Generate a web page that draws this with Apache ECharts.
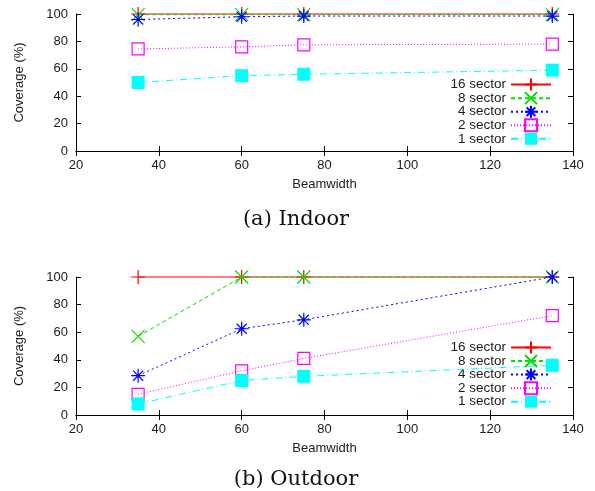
<!DOCTYPE html>
<html><head><meta charset="utf-8">
<script src="https://cdn.jsdelivr.net/npm/echarts@6/dist/echarts.min.js"></script>
<style>html,body{margin:0;padding:0;background:#fff}#c{width:595px;height:491px}</style>
</head><body><div id="c"></div>
<script>
const beamwidth = [35, 60, 75, 135];
const seriesNames = ['16 sector', '8 sector', '4 sector', '2 sector', '1 sector'];
const indoor16 = [100, 100, 100, 100];
const indoor8 = [99.5, 99.5, 99.5, 99.5];
const indoor4 = [96, 98, 98.5, 98.5];
const indoor2 = [74.5, 76, 77.5, 78];
const indoor1 = [50, 55, 56, 59];
const outdoor16 = [100, 100, 100, 100];
const outdoor8 = [57, 100, 100, 100];
const outdoor4 = [28.5, 62.5, 69, 100];
const outdoor2 = [15, 32, 41, 72];
const outdoor1 = [8, 25, 28, 36];
const xTicks = [20, 40, 60, 80, 100, 120, 140];
const yTicks = [0, 20, 40, 60, 80, 100];
const captions = ['(a) Indoor', '(b) Outdoor'];

const styles = [
  {color: '#ff0000', type: 'solid', symbol: 'path://M0,-1V1M-1,0H1', size: 14, fill: '#ff0000'},
  {color: '#00e000', type: [4, 3], symbol: 'path://M-1,-1L1,1M-1,1L1,-1', size: 13, fill: '#00e000'},
  {color: '#0000ff', type: [2, 3], symbol: 'path://M0,-1V1M-1,0H1M-0.72,-0.72L0.72,0.72M-0.72,0.72L0.72,-0.72', size: 14, fill: '#0000ff'},
  {color: '#ff00ff', type: [1, 2], symbol: 'path://M-1,-1H1V1H-1Z', size: 12, fill: 'rgba(0,0,0,0)'},
  {color: '#00ffff', type: [7, 3, 1, 3], symbol: 'rect', size: 13, fill: '#00ffff'}
];

const font = 'Liberation Sans, Arial, sans-serif';
const labelColor = '#1a1a1a';
const grids = [
  {left: 76, right: 22, top: 14, height: 137},
  {left: 76, right: 22, top: 277, height: 138}
];
const xAxes = [], yAxes = [], series = [], legends = [], titles = [];
const dataSets = [[indoor16, indoor8, indoor4, indoor2, indoor1], [outdoor16, outdoor8, outdoor4, outdoor2, outdoor1]];
const legendTops = [72.6, 335.5];
const captionTops = [204, 464];

for (let g = 0; g < 2; g++) {
  const common = {min: xTicks[0], max: xTicks[xTicks.length - 1], interval: 20, gridIndex: g, splitLine: {show: false},
    axisLine: {lineStyle: {color: '#000', width: 1}}, axisTick: {inside: true, length: 5, lineStyle: {color: '#000'}}};
  xAxes.push(Object.assign({}, common, {type: 'value', position: 'bottom', name: 'Beamwidth', nameLocation: 'middle', nameGap: 27,
    nameTextStyle: {fontFamily: font, fontSize: 13, color: labelColor},
    axisLabel: {fontFamily: font, fontSize: 13, color: labelColor, margin: 8}}));
  xAxes.push(Object.assign({}, common, {type: 'value', position: 'top', axisLabel: {show: false}}));
  const ycommon = {type: 'value', min: yTicks[0], max: yTicks[yTicks.length - 1], interval: 20, gridIndex: g, splitLine: {show: false},
    axisLine: {show: true, lineStyle: {color: '#000', width: 1}}, axisTick: {show: true, inside: true, length: 5, lineStyle: {color: '#000'}}};
  yAxes.push(Object.assign({}, ycommon, {position: 'left', name: 'Coverage (%)', nameLocation: 'middle', nameGap: 50,
    nameTextStyle: {fontFamily: font, fontSize: 13, color: labelColor},
    axisLabel: {fontFamily: font, fontSize: 13, color: labelColor, margin: 8}}));
  yAxes.push(Object.assign({}, ycommon, {position: 'right', axisLabel: {show: false}}));
  dataSets[g].forEach((vals, i) => {
    const st = styles[i];
    series.push({
      name: seriesNames[i], type: 'line', xAxisIndex: g * 2, yAxisIndex: g * 2,
      data: beamwidth.map((b, k) => [b, vals[k]]),
      symbol: st.symbol, symbolSize: st.size, clip: false, z: 3 + i,
      color: st.color,
      lineStyle: {color: st.color, width: 1, type: st.type},
      itemStyle: {color: st.fill, borderColor: st.color, borderWidth: i === 4 ? 0 : 1.2},
      emphasis: {disabled: true}
    });
  });
  legends.push({
    orient: 'vertical', align: 'right', right: 38, top: legendTops[g],
    itemWidth: 40, itemHeight: 15, itemGap: -0.45,
    data: seriesNames,
    selectedMode: false,
    textStyle: {fontFamily: font, fontSize: 13.5, color: labelColor, lineHeight: 13},
    backgroundColor: 'rgba(0,0,0,0)'
  });
  titles.push({text: captions[g], left: 291, top: captionTops[g], textAlign: 'center',
    textStyle: {fontFamily: 'DejaVu Serif, serif', fontSize: 21, fontWeight: 'normal', color: '#111'}});
}

const chart = echarts.init(document.getElementById('c'), null, {renderer: 'canvas'});
chart.setOption({
  animation: false,
  backgroundColor: '#fff',
  title: titles,
  grid: grids,
  xAxis: xAxes,
  yAxis: yAxes,
  legend: legends,
  series: series
});
</script></body></html>
